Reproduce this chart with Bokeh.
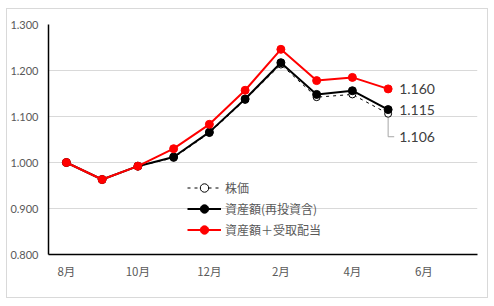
from bokeh.plotting import figure
from bokeh.models import FixedTicker, NumeralTickFormatter, Range1d, Legend, LegendItem
from bokeh.core.properties import value
from bokeh.embed import file_html
from bokeh.resources import INLINE

# ---- data ----
month_labels = {0: "8月", 2: "10月", 4: "12月", 6: "2月", 8: "4月", 10: "6月"}
x = list(range(10))  # 8月 .. 5月
stock = [1.000, 0.963, 0.992, 1.010, 1.064, 1.136, 1.213, 1.142, 1.148, 1.106]
reinvest = [1.000, 0.963, 0.992, 1.012, 1.066, 1.138, 1.217, 1.148, 1.156, 1.115]
dividend = [1.000, 0.963, 0.992, 1.030, 1.083, 1.157, 1.246, 1.178, 1.185, 1.160]
y_ticks = [0.8, 0.9, 1.0, 1.1, 1.2, 1.3]
names = ["株価", "資産額(再投資含)", "資産額＋受取配当"]

LAT = "Lato, 'Noto Sans CJK JP'"
CJK = "'Noto Sans CJK JP'"

p = figure(width=480, height=288, output_backend="svg", toolbar_location=None,
           x_range=Range1d(-0.5, 11.5), y_range=Range1d(0.8, 1.3),
           min_border_left=39, min_border_right=10, min_border_top=15, min_border_bottom=43)
p.margin = (9, 0, 0, 7)
p.styles = {"outline": "1px solid #d9d9d9"}
p.outline_line_color = None
p.background_fill_color = "white"
p.border_fill_color = "white"

p.xgrid.grid_line_color = None
p.ygrid.grid_line_color = "#d9d9d9"
p.ygrid.grid_line_width = 1
p.ygrid.ticker = FixedTicker(ticks=y_ticks)

p.yaxis.ticker = FixedTicker(ticks=y_ticks)
p.yaxis.formatter = NumeralTickFormatter(format="0.000")
p.xaxis.ticker = FixedTicker(ticks=list(month_labels.keys()))
p.xaxis.major_label_overrides = month_labels
for ax in (p.xaxis[0], p.yaxis[0]):
    ax.axis_line_color = "black"
    ax.axis_line_width = 1.5
    ax.major_tick_line_color = None
    ax.minor_tick_line_color = None
    ax.major_tick_out = 0
    ax.major_tick_in = 0
    ax.minor_tick_out = 0
    ax.minor_tick_in = 0
    ax.major_label_text_color = "#595959"
    ax.major_label_text_font = LAT
    ax.major_label_text_font_size = "11px"
    ax.major_label_standoff = 10
p.xaxis.major_label_text_font = CJK
p.xaxis.major_label_text_font_size = "11.5px"
p.xaxis.major_label_standoff = 8

# series
r1l = p.line(x, stock, line_color="black", line_width=1, line_dash="3 4")
r1s = p.scatter(x, stock, size=7, marker="circle", fill_color="white", line_color="black", line_width=1)
r2l = p.line(x, reinvest, line_color="black", line_width=2)
r2s = p.scatter(x, reinvest, size=8, marker="circle", fill_color="black", line_color="black")
r3l = p.line(x, dividend, line_color="#ff0000", line_width=2)
r3s = p.scatter(x, dividend, size=8, marker="circle", fill_color="#ff0000", line_color="#ff0000")

# data labels for last points
last = x[-1]
p.line([last, last, last + 0.17], [stock[-1] - 0.009, stock[-1] - 0.05, stock[-1] - 0.05],
       line_color="#a6a6a6", line_width=1)
p.text([last, last, last], [dividend[-1], reinvest[-1], stock[-1] - 0.05],
       text=[f"{dividend[-1]:.3f}", f"{reinvest[-1]:.3f}", f"{stock[-1]:.3f}"],
       x_offset=11, y_offset=0, text_align="left", text_baseline="middle",
       text_font=value("Lato"), text_font_size="14px", text_color="#404040")

legend = Legend(items=[LegendItem(label=names[0], renderers=[r1l, r1s]),
                       LegendItem(label=names[1], renderers=[r2l, r2s]),
                       LegendItem(label=names[2], renderers=[r3l, r3s])],
                location=(139, 14))
legend.background_fill_alpha = 0
legend.border_line_color = None
legend.padding = 0
legend.margin = 0
legend.spacing = 0
legend.glyph_width = 34
legend.glyph_height = 21
legend.label_height = 21
legend.label_standoff = 4
legend.label_text_font = CJK
legend.label_text_font_size = "12px"
legend.label_text_color = "#595959"
p.add_layout(legend, "center")

open("out.html", "w").write(file_html(p, INLINE))
